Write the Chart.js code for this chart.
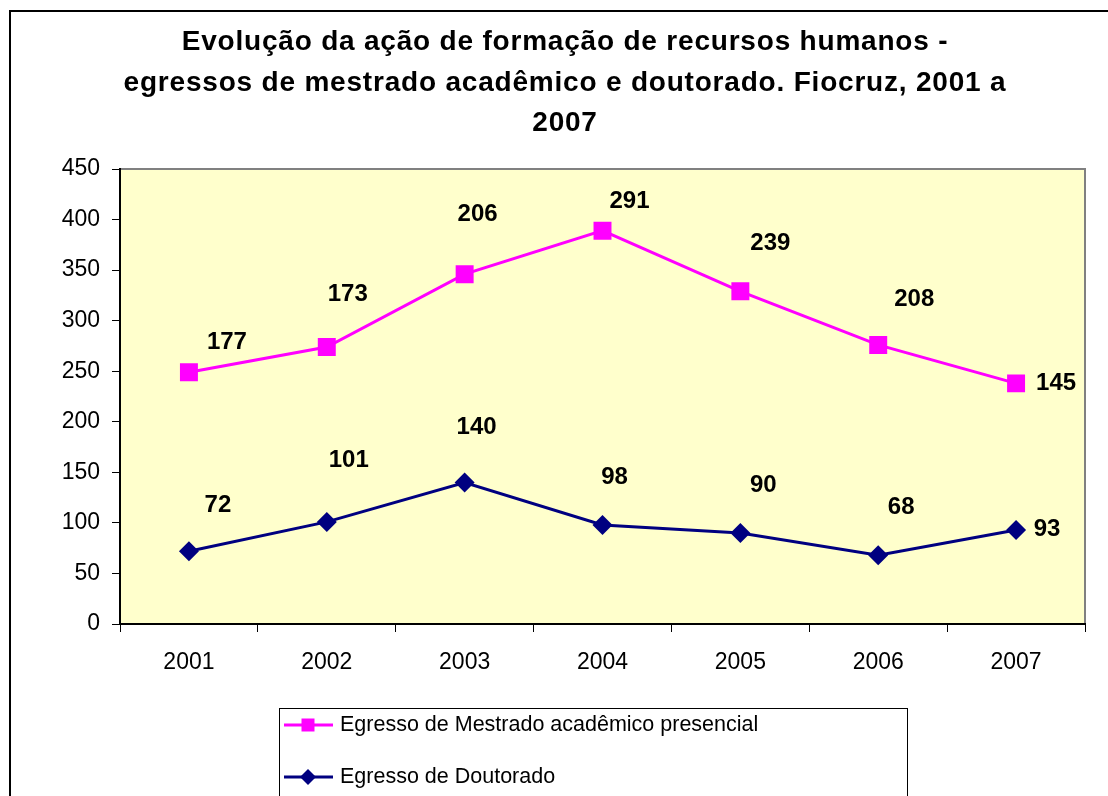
<!DOCTYPE html>
<html>
<head>
<meta charset="utf-8">
<script src="https://cdn.jsdelivr.net/npm/chart.js"></script>
<style>
  html, body { margin: 0; padding: 0; background: #fff; overflow: hidden; }
  #box { width: 1108px; height: 796px; }
</style>
</head>
<body>
<div id="box"><canvas id="grafico" width="1108" height="796"></canvas></div>
<script>
// dados
const anos = ['2001', '2002', '2003', '2004', '2005', '2006', '2007'];
const mestrado = [177, 173, 206, 291, 239, 208, 145];
const doutorado = [72, 101, 140, 98, 90, 68, 93];
const yMin = 0;
const yMax = 450;
const yPasso = 50;
const titulo = [
  'Evolução da ação de formação de recursos humanos -',
  'egressos de mestrado acadêmico e doutorado. Fiocruz, 2001 a',
  '2007'
];
const nomeMestrado = 'Egresso de Mestrado acadêmico presencial';
const nomeDoutorado = 'Egresso de Doutorado';

const FONTE = '"Liberation Sans", Arial, sans-serif';
const MAGENTA = '#FF00FF';
const AZUL = '#000080';

// deslocamento dos rótulos (px) em relação ao ponto, como no original
const offsets = {
  0: [[29, -46], [22, -62], [12, -55], [12, -48], [23, -48], [23, -48], [31, -1]],
  1: [[38, -30], [21, -53], [13, -60], [27, -29], [30, -48], [36, -46], [40, 0]]
};

function marcador(ctx, tipo, x, y, r, cor) {
  ctx.save();
  ctx.fillStyle = cor;
  ctx.beginPath();
  if (tipo === 'rect') {
    ctx.rect(x - r, y - r, 2 * r, 2 * r);
  } else {
    ctx.moveTo(x - r, y);
    ctx.lineTo(x, y - r);
    ctx.lineTo(x + r, y);
    ctx.lineTo(x, y + r);
    ctx.closePath();
  }
  ctx.fill();
  ctx.restore();
}

const fundo = {
  id: 'fundo',
  beforeDraw(chart) {
    const ctx = chart.ctx;
    const a = chart.chartArea;
    ctx.save();
    ctx.fillStyle = '#fff';
    ctx.fillRect(0, 0, chart.width, chart.height);
    // moldura externa
    ctx.strokeStyle = '#000';
    ctx.lineWidth = 2;
    ctx.strokeRect(10, 11, 1200, 900);
    // area do grafico
    ctx.fillStyle = '#FFFFCC';
    ctx.fillRect(a.left, a.top, a.right - a.left, a.bottom - a.top);
    ctx.strokeStyle = '#808080';
    ctx.lineWidth = 2;
    ctx.beginPath();
    ctx.moveTo(a.left, a.top);
    ctx.lineTo(a.right, a.top);
    ctx.lineTo(a.right, a.bottom);
    ctx.stroke();
    ctx.restore();
  },
  afterDraw(chart) {
    const ctx = chart.ctx;
    ctx.save();
    // titulo
    ctx.fillStyle = '#000';
    ctx.font = 'bold 28px ' + FONTE;
    ctx.letterSpacing = '0.8px';
    ctx.textAlign = 'center';
    ctx.textBaseline = 'alphabetic';
    const ys = [50, 90.5, 131];
    titulo.forEach((t, i) => ctx.fillText(t, 565, ys[i]));
    ctx.letterSpacing = '0px';

    // legenda
    ctx.textBaseline = 'middle';
    ctx.strokeStyle = '#000';
    ctx.lineWidth = 1;
    ctx.strokeRect(279.5, 708.5, 628, 200);
    const itens = [
      { nome: nomeMestrado, cor: MAGENTA, tipo: 'rect', r: 6.5, y: 725 },
      { nome: nomeDoutorado, cor: AZUL, tipo: 'diamond', r: 8, y: 777 }
    ];
    ctx.font = '21.5px ' + FONTE;
    ctx.textAlign = 'left';
    for (const it of itens) {
      ctx.strokeStyle = it.cor;
      ctx.lineWidth = 3;
      ctx.beginPath();
      ctx.moveTo(284, it.y);
      ctx.lineTo(333, it.y);
      ctx.stroke();
      marcador(ctx, it.tipo, 308, it.y, it.r, it.cor);
      ctx.fillStyle = '#000';
      ctx.fillText(it.nome, 340, it.y);
    }
    ctx.restore();
  },
  afterDatasetsDraw(chart) {
    // rotulos de valor
    const ctx = chart.ctx;
    ctx.save();
    ctx.fillStyle = '#000';
    ctx.font = 'bold 24px ' + FONTE;
    ctx.textAlign = 'center';
    ctx.textBaseline = 'middle';
    chart.data.datasets.forEach((ds, i) => {
      const meta = chart.getDatasetMeta(i);
      meta.data.forEach((pt, j) => {
        const off = offsets[i][j];
        ctx.fillText(String(ds.data[j]), pt.x + off[0], pt.y + off[1]);
      });
    });
    ctx.restore();
  }
};

const ctx = document.getElementById('grafico').getContext('2d');
new Chart(ctx, {
  type: 'line',
  data: {
    labels: anos,
    datasets: [
      {
        label: nomeDoutorado,
        data: doutorado,
        borderColor: AZUL,
        backgroundColor: AZUL,
        borderWidth: 3,
        pointStyle: 'rectRot',
        pointRadius: 10,
        pointBorderWidth: 0,
        fill: false,
        tension: 0
      },
      {
        label: nomeMestrado,
        data: mestrado,
        borderColor: MAGENTA,
        backgroundColor: MAGENTA,
        borderWidth: 3,
        pointStyle: 'rect',
        pointRadius: 12.7,
        pointBorderWidth: 0,
        fill: false,
        tension: 0
      }
    ]
  },
  options: {
    responsive: false,
    animation: false,
    events: [],
    layout: { padding: { top: 169, left: 0, right: 23, bottom: 124 } },
    plugins: {
      legend: { display: false },
      title: { display: false },
      tooltip: { enabled: false }
    },
    scales: {
      x: {
        offset: true,
        grid: {
          offset: true,
          drawOnChartArea: false,
          drawTicks: true,
          tickLength: 8,
          tickColor: '#000',
          tickWidth: 1
        },
        border: { color: '#000', width: 2 },
        ticks: { color: '#000', font: { family: FONTE, size: 23 }, padding: 17, maxRotation: 0 },
        afterFit(s) { s.height = 48; }
      },
      y: {
        stacked: true,
        min: yMin,
        max: yMax,
        grid: {
          drawOnChartArea: false,
          drawTicks: true,
          tickLength: 8,
          tickColor: '#000',
          tickWidth: 1
        },
        border: { color: '#000', width: 2 },
        ticks: { stepSize: yPasso, color: '#000', font: { family: FONTE, size: 23 }, padding: 12 },
        afterFit(s) { s.width = 120; }
      }
    }
  },
  plugins: [fundo]
});
</script>
</body>
</html>
